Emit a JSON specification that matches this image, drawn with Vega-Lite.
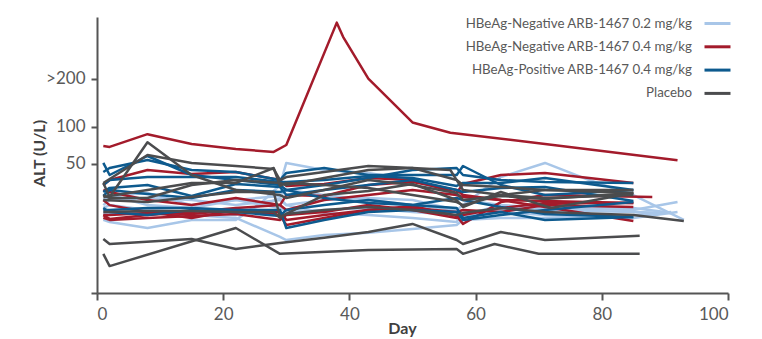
{
  "$schema": "https://vega.github.io/schema/vega-lite/v6.json",
  "width": 631,
  "height": 276,
  "autosize": {"type": "none"},
  "padding": {"left": 97, "top": 17, "right": 34, "bottom": 46},
  "background": "white",
  "config": {
    "view": {"stroke": null},
    "font": "Lato",
    "axis": {"grid": false, "domainColor": "#555555", "domainWidth": 2, "tickColor": "#555555", "tickWidth": 2, "labelColor": "#595959", "labelFont": "Lato", "labelFontSize": 17, "titleFont": "Lato", "titleFontSize": 16, "titleFontWeight": "bold", "titleColor": "#404040"}
  },
  "datasets": {
    "subj": [
      {"id": "L1", "group": "HBeAg-Negative ARB-1467 0.2 mg/kg"},
      {"id": "L2", "group": "HBeAg-Negative ARB-1467 0.2 mg/kg"},
      {"id": "L3", "group": "HBeAg-Negative ARB-1467 0.2 mg/kg"},
      {"id": "L4", "group": "HBeAg-Negative ARB-1467 0.2 mg/kg"},
      {"id": "L5", "group": "HBeAg-Negative ARB-1467 0.2 mg/kg"},
      {"id": "L6", "group": "HBeAg-Negative ARB-1467 0.2 mg/kg"},
      {"id": "R1", "group": "HBeAg-Negative ARB-1467 0.4 mg/kg"},
      {"id": "R2", "group": "HBeAg-Negative ARB-1467 0.4 mg/kg"},
      {"id": "R3", "group": "HBeAg-Negative ARB-1467 0.4 mg/kg"},
      {"id": "R4", "group": "HBeAg-Negative ARB-1467 0.4 mg/kg"},
      {"id": "R5", "group": "HBeAg-Negative ARB-1467 0.4 mg/kg"},
      {"id": "R6", "group": "HBeAg-Negative ARB-1467 0.4 mg/kg"},
      {"id": "R7", "group": "HBeAg-Negative ARB-1467 0.4 mg/kg"},
      {"id": "B1", "group": "HBeAg-Positive ARB-1467 0.4 mg/kg"},
      {"id": "B2", "group": "HBeAg-Positive ARB-1467 0.4 mg/kg"},
      {"id": "B3", "group": "HBeAg-Positive ARB-1467 0.4 mg/kg"},
      {"id": "B4", "group": "HBeAg-Positive ARB-1467 0.4 mg/kg"},
      {"id": "B5", "group": "HBeAg-Positive ARB-1467 0.4 mg/kg"},
      {"id": "B6", "group": "HBeAg-Positive ARB-1467 0.4 mg/kg"},
      {"id": "B7", "group": "HBeAg-Positive ARB-1467 0.4 mg/kg"},
      {"id": "G1", "group": "Placebo"},
      {"id": "G2", "group": "Placebo"},
      {"id": "G3", "group": "Placebo"},
      {"id": "G4", "group": "Placebo"},
      {"id": "G5", "group": "Placebo"},
      {"id": "G6", "group": "Placebo"},
      {"id": "G7", "group": "Placebo"},
      {"id": "G8", "group": "Placebo"}
    ],
    "pts": [
      {"id":"L1","day":1,"alt":10.5},{"id":"L1","day":2,"alt":9.7},{"id":"L1","day":8,"alt":7.6},{"id":"L1","day":15,"alt":10.5},{"id":"L1","day":22,"alt":10.5},{"id":"L1","day":26,"alt":18.6},{"id":"L1","day":29,"alt":30.6},{"id":"L1","day":30,"alt":50.9},{"id":"L1","day":36,"alt":43.7},{"id":"L1","day":43,"alt":40.9},{"id":"L1","day":50,"alt":34.6},{"id":"L1","day":57,"alt":23.4},{"id":"L1","day":58,"alt":20.3},{"id":"L1","day":64,"alt":17.4},{"id":"L1","day":71,"alt":15.9},{"id":"L1","day":85,"alt":14.9},{"id":"L1","day":92,"alt":19.1},
      {"id":"L2","day":1,"alt":20.3},{"id":"L2","day":2,"alt":22.8},{"id":"L2","day":8,"alt":24.8},{"id":"L2","day":15,"alt":17.4},{"id":"L2","day":22,"alt":20.3},{"id":"L2","day":29,"alt":22.8},{"id":"L2","day":30,"alt":26.9},{"id":"L2","day":36,"alt":23.4},{"id":"L2","day":43,"alt":20.3},{"id":"L2","day":50,"alt":17.4},{"id":"L2","day":57,"alt":14.9},{"id":"L2","day":58,"alt":12.5},{"id":"L2","day":64,"alt":17.4},{"id":"L2","day":71,"alt":14.9},{"id":"L2","day":85,"alt":13.9},{"id":"L2","day":91,"alt":13.5},
      {"id":"L3","day":1,"alt":13.5},{"id":"L3","day":2,"alt":13.5},{"id":"L3","day":8,"alt":13.5},{"id":"L3","day":15,"alt":12.5},{"id":"L3","day":22,"alt":11.3},{"id":"L3","day":29,"alt":5.1},{"id":"L3","day":30,"alt":4.35},{"id":"L3","day":36,"alt":5.6},{"id":"L3","day":43,"alt":6.2},{"id":"L3","day":50,"alt":7.3},{"id":"L3","day":57,"alt":8.6},{"id":"L3","day":58,"alt":10.5},{"id":"L3","day":64,"alt":11.3},{"id":"L3","day":71,"alt":11.3},{"id":"L3","day":85,"alt":12.5},{"id":"L3","day":91,"alt":13.9},
      {"id":"L4","day":1,"alt":17.4},{"id":"L4","day":2,"alt":20.3},{"id":"L4","day":8,"alt":21.5},{"id":"L4","day":15,"alt":20.3},{"id":"L4","day":22,"alt":17.4},{"id":"L4","day":29,"alt":20.3},{"id":"L4","day":30,"alt":17.4},{"id":"L4","day":36,"alt":20.3},{"id":"L4","day":43,"alt":21.5},{"id":"L4","day":50,"alt":20.3},{"id":"L4","day":57,"alt":14.9},{"id":"L4","day":58,"alt":17.4},{"id":"L4","day":64,"alt":37.2},{"id":"L4","day":71,"alt":50.9},{"id":"L4","day":78,"alt":34.6},{"id":"L4","day":85,"alt":23.4},{"id":"L4","day":93,"alt":10.5},
      {"id":"L5","day":1,"alt":26.9},{"id":"L5","day":2,"alt":23.4},{"id":"L5","day":8,"alt":17.4},{"id":"L5","day":15,"alt":15.9},{"id":"L5","day":22,"alt":20.3},{"id":"L5","day":29,"alt":15.9},{"id":"L5","day":30,"alt":13.9},{"id":"L5","day":36,"alt":14.9},{"id":"L5","day":43,"alt":15.9},{"id":"L5","day":50,"alt":13.9},{"id":"L5","day":57,"alt":12.5},{"id":"L5","day":58,"alt":12.5},{"id":"L5","day":64,"alt":13.9},{"id":"L5","day":71,"alt":12.5},{"id":"L5","day":85,"alt":11.3},{"id":"L5","day":92,"alt":13.9},
      {"id":"L6","day":1,"alt":15.9},{"id":"L6","day":2,"alt":17.4},{"id":"L6","day":8,"alt":14.9},{"id":"L6","day":15,"alt":13.9},{"id":"L6","day":22,"alt":12.5},{"id":"L6","day":29,"alt":21.5},{"id":"L6","day":30,"alt":17.4},{"id":"L6","day":36,"alt":13.5},{"id":"L6","day":43,"alt":12.5},{"id":"L6","day":50,"alt":11.3},{"id":"L6","day":57,"alt":9.7},{"id":"L6","day":58,"alt":13.5},{"id":"L6","day":64,"alt":14.9},{"id":"L6","day":71,"alt":16.9},{"id":"L6","day":85,"alt":15.9},{"id":"L6","day":90,"alt":13.9},
      {"id":"R1","day":1,"alt":71.2},{"id":"R1","day":2,"alt":70.0},{"id":"R1","day":8,"alt":88.0},{"id":"R1","day":15,"alt":73.9},{"id":"R1","day":22,"alt":67.3},{"id":"R1","day":28,"alt":63.6},{"id":"R1","day":30,"alt":72.5},{"id":"R1","day":38,"alt":378},{"id":"R1","day":39,"alt":326},{"id":"R1","day":43,"alt":200},{"id":"R1","day":50,"alt":107},{"id":"R1","day":56,"alt":90.2},{"id":"R1","day":71,"alt":73.9},{"id":"R1","day":92,"alt":53.8},
      {"id":"R2","day":1,"alt":30.6},{"id":"R2","day":2,"alt":34.6},{"id":"R2","day":8,"alt":43.7},{"id":"R2","day":15,"alt":39.9},{"id":"R2","day":22,"alt":41.8},{"id":"R2","day":29,"alt":34.6},{"id":"R2","day":30,"alt":29.9},{"id":"R2","day":36,"alt":31.4},{"id":"R2","day":43,"alt":36.4},{"id":"R2","day":50,"alt":34.6},{"id":"R2","day":57,"alt":24.8},{"id":"R2","day":58,"alt":31.4},{"id":"R2","day":64,"alt":39.0},{"id":"R2","day":71,"alt":40.9},{"id":"R2","day":85,"alt":32.2},
      {"id":"R3","day":1,"alt":26.9},{"id":"R3","day":2,"alt":25.5},{"id":"R3","day":8,"alt":20.3},{"id":"R3","day":15,"alt":17.4},{"id":"R3","day":22,"alt":21.5},{"id":"R3","day":29,"alt":17.4},{"id":"R3","day":30,"alt":14.9},{"id":"R3","day":36,"alt":20.3},{"id":"R3","day":43,"alt":23.4},{"id":"R3","day":50,"alt":26.9},{"id":"R3","day":57,"alt":23.4},{"id":"R3","day":58,"alt":22.2},{"id":"R3","day":64,"alt":20.3},{"id":"R3","day":71,"alt":19.7},{"id":"R3","day":85,"alt":18.6},
      {"id":"R4","day":1,"alt":20.3},{"id":"R4","day":2,"alt":17.4},{"id":"R4","day":8,"alt":13.9},{"id":"R4","day":15,"alt":11.3},{"id":"R4","day":22,"alt":14.9},{"id":"R4","day":29,"alt":12.5},{"id":"R4","day":30,"alt":8.6},{"id":"R4","day":36,"alt":11.3},{"id":"R4","day":43,"alt":14.9},{"id":"R4","day":50,"alt":16.9},{"id":"R4","day":57,"alt":12.1},{"id":"R4","day":58,"alt":9.0},{"id":"R4","day":64,"alt":19.1},{"id":"R4","day":71,"alt":23.4},{"id":"R4","day":88,"alt":22.2},
      {"id":"R5","day":1,"alt":12.5},{"id":"R5","day":2,"alt":12.5},{"id":"R5","day":8,"alt":13.5},{"id":"R5","day":15,"alt":13.0},{"id":"R5","day":22,"alt":14.9},{"id":"R5","day":29,"alt":13.9},{"id":"R5","day":30,"alt":10.5},{"id":"R5","day":36,"alt":12.5},{"id":"R5","day":43,"alt":14.9},{"id":"R5","day":50,"alt":15.9},{"id":"R5","day":57,"alt":13.9},{"id":"R5","day":58,"alt":14.9},{"id":"R5","day":64,"alt":13.9},{"id":"R5","day":71,"alt":17.4},{"id":"R5","day":85,"alt":16.4},
      {"id":"R6","day":1,"alt":12.5},{"id":"R6","day":2,"alt":10.9},{"id":"R6","day":8,"alt":12.5},{"id":"R6","day":15,"alt":13.9},{"id":"R6","day":22,"alt":15.9},{"id":"R6","day":29,"alt":17.4},{"id":"R6","day":30,"alt":23.4},{"id":"R6","day":36,"alt":22.8},{"id":"R6","day":43,"alt":30.6},{"id":"R6","day":50,"alt":33.0},{"id":"R6","day":57,"alt":26.9},{"id":"R6","day":58,"alt":23.4},{"id":"R6","day":64,"alt":20.3},{"id":"R6","day":71,"alt":16.4},{"id":"R6","day":85,"alt":10.1},
      {"id":"R7","day":1,"alt":11.3},{"id":"R7","day":2,"alt":10.5},{"id":"R7","day":8,"alt":11.3},{"id":"R7","day":15,"alt":12.1},{"id":"R7","day":22,"alt":13.0},{"id":"R7","day":29,"alt":10.5},{"id":"R7","day":30,"alt":12.5},{"id":"R7","day":36,"alt":13.9},{"id":"R7","day":43,"alt":17.4},{"id":"R7","day":50,"alt":14.9},{"id":"R7","day":57,"alt":11.3},{"id":"R7","day":58,"alt":12.5},{"id":"R7","day":64,"alt":15.9},{"id":"R7","day":71,"alt":18.6},{"id":"R7","day":85,"alt":18.6},
      {"id":"B1","day":1,"alt":41.8},{"id":"B1","day":2,"alt":45.7},{"id":"B1","day":8,"alt":54.1},{"id":"B1","day":15,"alt":43.7},{"id":"B1","day":22,"alt":41.8},{"id":"B1","day":29,"alt":34.6},{"id":"B1","day":30,"alt":40.9},{"id":"B1","day":36,"alt":45.7},{"id":"B1","day":43,"alt":39.0},{"id":"B1","day":50,"alt":39.0},{"id":"B1","day":57,"alt":39.0},{"id":"B1","day":58,"alt":47.7},{"id":"B1","day":64,"alt":30.6},{"id":"B1","day":71,"alt":23.4},{"id":"B1","day":85,"alt":26.9},
      {"id":"B2","day":1,"alt":50.9},{"id":"B2","day":2,"alt":39.0},{"id":"B2","day":8,"alt":58.7},{"id":"B2","day":15,"alt":39.0},{"id":"B2","day":22,"alt":34.6},{"id":"B2","day":29,"alt":30.6},{"id":"B2","day":30,"alt":26.9},{"id":"B2","day":36,"alt":30.6},{"id":"B2","day":43,"alt":36.4},{"id":"B2","day":50,"alt":43.7},{"id":"B2","day":57,"alt":45.7},{"id":"B2","day":58,"alt":39.0},{"id":"B2","day":64,"alt":34.6},{"id":"B2","day":71,"alt":33.0},{"id":"B2","day":85,"alt":32.2},
      {"id":"B3","day":1,"alt":25.5},{"id":"B3","day":2,"alt":28.4},{"id":"B3","day":8,"alt":30.6},{"id":"B3","day":15,"alt":22.8},{"id":"B3","day":22,"alt":31.4},{"id":"B3","day":29,"alt":29.1},{"id":"B3","day":30,"alt":23.4},{"id":"B3","day":36,"alt":26.9},{"id":"B3","day":43,"alt":30.6},{"id":"B3","day":50,"alt":34.6},{"id":"B3","day":57,"alt":26.9},{"id":"B3","day":58,"alt":25.5},{"id":"B3","day":64,"alt":28.4},{"id":"B3","day":71,"alt":29.1},{"id":"B3","day":85,"alt":19.7},
      {"id":"B4","day":1,"alt":30.6},{"id":"B4","day":2,"alt":34.6},{"id":"B4","day":8,"alt":37.2},{"id":"B4","day":15,"alt":37.2},{"id":"B4","day":22,"alt":37.2},{"id":"B4","day":29,"alt":33.0},{"id":"B4","day":30,"alt":33.0},{"id":"B4","day":36,"alt":34.6},{"id":"B4","day":43,"alt":38.1},{"id":"B4","day":50,"alt":36.4},{"id":"B4","day":57,"alt":29.9},{"id":"B4","day":58,"alt":32.2},{"id":"B4","day":64,"alt":32.2},{"id":"B4","day":71,"alt":36.4},{"id":"B4","day":85,"alt":26.9},
      {"id":"B5","day":1,"alt":14.9},{"id":"B5","day":2,"alt":14.9},{"id":"B5","day":8,"alt":15.9},{"id":"B5","day":15,"alt":15.9},{"id":"B5","day":22,"alt":14.9},{"id":"B5","day":29,"alt":14.9},{"id":"B5","day":30,"alt":7.6},{"id":"B5","day":36,"alt":10.5},{"id":"B5","day":43,"alt":13.9},{"id":"B5","day":50,"alt":14.9},{"id":"B5","day":57,"alt":13.9},{"id":"B5","day":58,"alt":10.5},{"id":"B5","day":64,"alt":12.5},{"id":"B5","day":71,"alt":14.9},{"id":"B5","day":85,"alt":19.1},
      {"id":"B6","day":1,"alt":15.9},{"id":"B6","day":2,"alt":13.9},{"id":"B6","day":8,"alt":12.5},{"id":"B6","day":15,"alt":14.9},{"id":"B6","day":22,"alt":13.9},{"id":"B6","day":29,"alt":12.1},{"id":"B6","day":30,"alt":14.9},{"id":"B6","day":36,"alt":17.4},{"id":"B6","day":43,"alt":20.3},{"id":"B6","day":50,"alt":17.4},{"id":"B6","day":57,"alt":15.9},{"id":"B6","day":58,"alt":11.3},{"id":"B6","day":64,"alt":13.9},{"id":"B6","day":71,"alt":10.5},{"id":"B6","day":85,"alt":11.7},
      {"id":"B7","day":1,"alt":22.8},{"id":"B7","day":2,"alt":26.9},{"id":"B7","day":8,"alt":24.1},{"id":"B7","day":15,"alt":21.5},{"id":"B7","day":22,"alt":26.9},{"id":"B7","day":29,"alt":25.5},{"id":"B7","day":30,"alt":26.9},{"id":"B7","day":36,"alt":21.5},{"id":"B7","day":43,"alt":18.6},{"id":"B7","day":50,"alt":17.4},{"id":"B7","day":57,"alt":21.5},{"id":"B7","day":58,"alt":20.3},{"id":"B7","day":64,"alt":16.4},{"id":"B7","day":71,"alt":13.0},{"id":"B7","day":85,"alt":11.7},
      {"id":"G1","day":1,"alt":32.2},{"id":"G1","day":2,"alt":22.2},{"id":"G1","day":8,"alt":76.2},{"id":"G1","day":15,"alt":39.0},{"id":"G1","day":22,"alt":26.9},{"id":"G1","day":29,"alt":23.4},{"id":"G1","day":30,"alt":21.5},{"id":"G1","day":36,"alt":26.9},{"id":"G1","day":43,"alt":34.6},{"id":"G1","day":50,"alt":30.6},{"id":"G1","day":57,"alt":24.8},{"id":"G1","day":58,"alt":20.3},{"id":"G1","day":64,"alt":22.8},{"id":"G1","day":71,"alt":20.9},{"id":"G1","day":85,"alt":24.8},
      {"id":"G2","day":1,"alt":32.2},{"id":"G2","day":8,"alt":59.9},{"id":"G2","day":15,"alt":50.9},{"id":"G2","day":22,"alt":47.7},{"id":"G2","day":28,"alt":44.7},{"id":"G2","day":29,"alt":34.6},{"id":"G2","day":30,"alt":37.2},{"id":"G2","day":36,"alt":41.8},{"id":"G2","day":43,"alt":47.7},{"id":"G2","day":50,"alt":45.7},{"id":"G2","day":56,"alt":43.7},{"id":"G2","day":57,"alt":34.6},{"id":"G2","day":58,"alt":30.6},{"id":"G2","day":64,"alt":29.1},{"id":"G2","day":71,"alt":26.9},{"id":"G2","day":85,"alt":24.8},
      {"id":"G3","day":1,"alt":22.2},{"id":"G3","day":8,"alt":26.9},{"id":"G3","day":15,"alt":32.2},{"id":"G3","day":22,"alt":32.2},{"id":"G3","day":28,"alt":45.7},{"id":"G3","day":29,"alt":29.9},{"id":"G3","day":30,"alt":32.2},{"id":"G3","day":36,"alt":30.6},{"id":"G3","day":43,"alt":28.4},{"id":"G3","day":50,"alt":23.4},{"id":"G3","day":57,"alt":19.1},{"id":"G3","day":58,"alt":17.4},{"id":"G3","day":64,"alt":23.4},{"id":"G3","day":71,"alt":26.9},{"id":"G3","day":85,"alt":26.9},
      {"id":"G4","day":1,"alt":20.3},{"id":"G4","day":8,"alt":19.1},{"id":"G4","day":15,"alt":22.2},{"id":"G4","day":22,"alt":25.5},{"id":"G4","day":28,"alt":25.5},{"id":"G4","day":29,"alt":11.7},{"id":"G4","day":30,"alt":13.0},{"id":"G4","day":36,"alt":23.4},{"id":"G4","day":43,"alt":26.2},{"id":"G4","day":50,"alt":31.4},{"id":"G4","day":57,"alt":20.3},{"id":"G4","day":58,"alt":16.4},{"id":"G4","day":64,"alt":25.5},{"id":"G4","day":72,"alt":15.9},{"id":"G4","day":85,"alt":24.8},
      {"id":"G5","day":1,"alt":13.9},{"id":"G5","day":8,"alt":14.4},{"id":"G5","day":15,"alt":14.4},{"id":"G5","day":22,"alt":13.9},{"id":"G5","day":28,"alt":13.9},{"id":"G5","day":29,"alt":11.3},{"id":"G5","day":30,"alt":13.0},{"id":"G5","day":36,"alt":14.9},{"id":"G5","day":43,"alt":16.4},{"id":"G5","day":50,"alt":14.9},{"id":"G5","day":57,"alt":12.5},{"id":"G5","day":58,"alt":13.5},{"id":"G5","day":64,"alt":15.9},{"id":"G5","day":71,"alt":13.9},{"id":"G5","day":85,"alt":12.5},{"id":"G5","day":93,"alt":10.1},
      {"id":"G6","day":1,"alt":4.6},{"id":"G6","day":2,"alt":3.5},{"id":"G6","day":15,"alt":4.6},{"id":"G6","day":22,"alt":2.6},{"id":"G6","day":29,"alt":3.7},{"id":"G6","day":36,"alt":4.9},{"id":"G6","day":43,"alt":6.4},{"id":"G6","day":50,"alt":9.0},{"id":"G6","day":57,"alt":4.35},{"id":"G6","day":58,"alt":3.5},{"id":"G6","day":64,"alt":6.4},{"id":"G6","day":71,"alt":4.35},{"id":"G6","day":86,"alt":5.4},
      {"id":"G7","day":1,"alt":1.9},{"id":"G7","day":2,"alt":0.68},{"id":"G7","day":22,"alt":7.6},{"id":"G7","day":29,"alt":1.9},{"id":"G7","day":43,"alt":2.46},{"id":"G7","day":57,"alt":2.6},{"id":"G7","day":58,"alt":1.9},{"id":"G7","day":63,"alt":3.5},{"id":"G7","day":70,"alt":1.9},{"id":"G7","day":86,"alt":1.9},
      {"id":"G8","day":1,"alt":23.4},{"id":"G8","day":2,"alt":21.5},{"id":"G8","day":8,"alt":21.5},{"id":"G8","day":15,"alt":30.6},{"id":"G8","day":22,"alt":34.6},{"id":"G8","day":29,"alt":32.2},{"id":"G8","day":30,"alt":30.6},{"id":"G8","day":36,"alt":36.4},{"id":"G8","day":43,"alt":43.7},{"id":"G8","day":50,"alt":45.7},{"id":"G8","day":57,"alt":34.6},{"id":"G8","day":58,"alt":26.9},{"id":"G8","day":64,"alt":23.4},{"id":"G8","day":71,"alt":21.5},{"id":"G8","day":85,"alt":23.4}
    ]
  },
  "data": {"name": "pts"},
  "transform": [
    {"lookup": "id", "from": {"data": {"name": "subj"}, "key": "id", "fields": ["group"]}}
  ],
  "mark": {"type": "line", "strokeWidth": 2.5, "strokeJoin": "round", "clip": false},
  "encoding": {
    "x": {
      "field": "day", "type": "quantitative",
      "scale": {"domain": [0, 100], "nice": false},
      "axis": {"title": "Day", "values": [0, 20, 40, 60, 80, 100], "tickSize": 7, "labelPadding": 6, "titleX": 305, "titleY": 40, "titleBaseline": "alphabetic"}
    },
    "y": {
      "field": "alt", "type": "quantitative",
      "scale": {"type": "pow", "exponent": 0.365, "domain": [0, 400], "nice": false, "zero": true},
      "axis": {"title": "ALT (U/L)", "values": [0, 50, 100, 200], "tickSize": 6, "labelPadding": 6, "titleX": -50, "titleY": 136, "titleAlign": "center", "titleBaseline": "bottom", "labelExpr": "datum.value == 200 ? '>200' : (datum.value == 0 ? '' : datum.label)"}
    },
    "detail": {"field": "id"},
    "color": {
      "field": "group", "type": "nominal",
      "scale": {
        "domain": ["HBeAg-Negative ARB-1467 0.2 mg/kg", "HBeAg-Negative ARB-1467 0.4 mg/kg", "HBeAg-Positive ARB-1467 0.4 mg/kg", "Placebo"],
        "range": ["#a8c6e8", "#a31b2b", "#0d5a8e", "#4b4c4e"]
      },
      "legend": {
        "title": null, "orient": "none", "legendX": 606, "legendY": -8,
        "symbolType": "stroke", "symbolSize": 676, "symbolStrokeWidth": 3,
        "labelAlign": "right", "labelOffset": -40, "labelFontSize": 13.3, "labelFont": "Lato", "labelColor": "#595959",
        "rowPadding": 2.3, "padding": 0, "labelLimit": 400
      }
    }
  }
}
